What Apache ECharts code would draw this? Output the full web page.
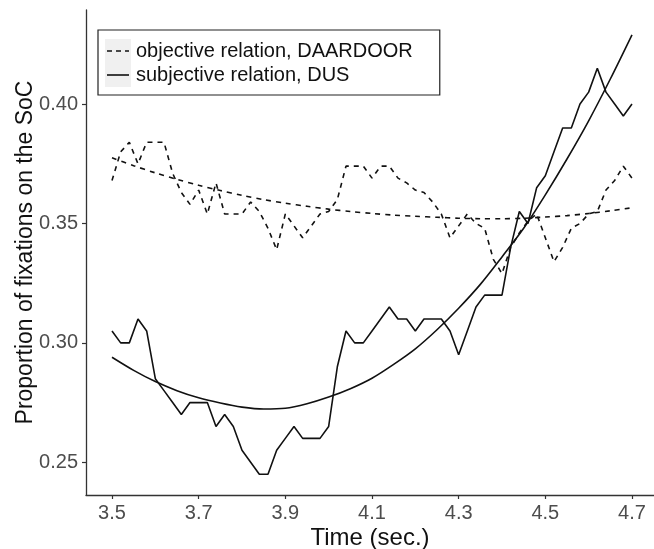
<!DOCTYPE html>
<html>
<head>
<meta charset="utf-8">
<script src="https://cdn.jsdelivr.net/npm/echarts@6/dist/echarts.min.js"></script>
<style>
  html, body { margin: 0; padding: 0; background: #fff; }
  #fixChart { width: 654px; height: 549px; }
</style>
</head>
<body>
<div id="fixChart"></div>
<script>
// time bins (sec.)
const times = [
  3.50, 3.52, 3.54, 3.56, 3.58, 3.60, 3.62, 3.64, 3.66, 3.68,
  3.70, 3.72, 3.74, 3.76, 3.78, 3.80, 3.82, 3.84, 3.86, 3.88,
  3.90, 3.92, 3.94, 3.96, 3.98, 4.00, 4.02, 4.04, 4.06, 4.08,
  4.10, 4.12, 4.14, 4.16, 4.18, 4.20, 4.22, 4.24, 4.26, 4.28,
  4.30, 4.32, 4.34, 4.36, 4.38, 4.40, 4.42, 4.44, 4.46, 4.48,
  4.50, 4.52, 4.54, 4.56, 4.58, 4.60, 4.62, 4.64, 4.66, 4.68,
  4.70
];

// objective relation, DAARDOOR (dashed)
const objective = [
  0.368, 0.380, 0.384, 0.375, 0.384, 0.384, 0.384, 0.371, 0.363, 0.358,
  0.364, 0.354, 0.367, 0.354, 0.354, 0.354, 0.359, 0.355, 0.348, 0.339,
  0.354, 0.349, 0.344, 0.349, 0.354, 0.355, 0.360, 0.374, 0.374, 0.374,
  0.369, 0.374, 0.374, 0.369, 0.367, 0.364, 0.363, 0.359, 0.354, 0.344,
  0.349, 0.354, 0.350, 0.348, 0.335, 0.329, 0.340, 0.346, 0.351, 0.354,
  0.344, 0.334, 0.340, 0.348, 0.350, 0.354, 0.355, 0.364, 0.368, 0.374,
  0.369
];

// subjective relation, DUS (solid)
const subjective = [
  0.305, 0.300, 0.300, 0.310, 0.305, 0.285, 0.280, 0.275, 0.270, 0.275,
  0.275, 0.275, 0.265, 0.270, 0.265, 0.255, 0.250, 0.245, 0.245, 0.255,
  0.260, 0.265, 0.260, 0.260, 0.260, 0.265, 0.290, 0.305, 0.300, 0.300,
  0.305, 0.310, 0.315, 0.310, 0.310, 0.305, 0.310, 0.310, 0.310, 0.305,
  0.295, 0.305, 0.315, 0.320, 0.320, 0.320, 0.340, 0.355, 0.350, 0.365,
  0.370, 0.380, 0.390, 0.390, 0.400, 0.405, 0.415, 0.405, 0.400, 0.395,
  0.400
];

// fitted curves
const fitTimes = [
  3.50, 3.55, 3.60, 3.65, 3.70, 3.75, 3.80, 3.85, 3.90, 3.95, 4.00, 4.05, 4.10,
  4.15, 4.20, 4.25, 4.30, 4.35, 4.40, 4.45, 4.50, 4.55, 4.60, 4.65, 4.70
];
const objectiveFit = [
  0.3775, 0.3742, 0.3712, 0.3685, 0.3660, 0.3638, 0.3618, 0.3600, 0.3585, 0.3572, 0.3560, 0.3550, 0.3542,
  0.3535, 0.3530, 0.3526, 0.3522, 0.3520, 0.3520, 0.3522, 0.3527, 0.3533, 0.3542, 0.3553, 0.3566
];
const subjectiveFit = [
  0.2940, 0.2885, 0.2838, 0.2800, 0.2770, 0.2748, 0.2731, 0.2723, 0.2726, 0.2745, 0.2773, 0.2808, 0.2852,
  0.2910, 0.2975, 0.3055, 0.3145, 0.3245, 0.3360, 0.3480, 0.3620, 0.3770, 0.3930, 0.4105, 0.4290
];

const xTicks = [3.5, 3.7, 3.9, 4.1, 4.3, 4.5, 4.7];
const yTicks = [0.25, 0.30, 0.35, 0.40];

const OBJ = 'objective relation, DAARDOOR';
const SUBJ = 'subjective relation, DUS';

const pairs = (xs, ys) => xs.map((x, i) => [x, ys[i]]);

const option = () => {
  const font = 'Liberation Sans, Arial, sans-serif';
  const tickStyle = { color: '#333', width: 1.2 };
  // legend keys: grey ggplot-style boxes with a line sample
  const keyBox = (top) => ({
    type: 'rect',
    left: 105,
    top: top,
    shape: { width: 26, height: 24 },
    style: { fill: '#f0f0f0' },
    z: 10
  });
  const keyLine = (y, dashed) => ({
    type: 'line',
    shape: { x1: 107, y1: y, x2: 129, y2: y },
    style: { stroke: '#111', lineWidth: 1.6, lineDash: dashed ? [5, 4] : null },
    z: 11
  });
  return {
    animation: false,
    backgroundColor: '#fff',
    textStyle: { fontFamily: font },
    grid: { left: 86, right: 0, top: 10, bottom: 54, containLabel: false, outerBoundsMode: 'none' },
    legend: {
      data: [OBJ, SUBJ],
      orient: 'vertical',
      left: 98,
      top: 30,
      padding: [9, 27, 8, 7],
      itemGap: 0,
      itemWidth: 26,
      itemHeight: 24,
      icon: 'rect',
      itemStyle: { opacity: 0 },
      lineStyle: { opacity: 0 },
      borderColor: '#222',
      borderWidth: 1.2,
      textStyle: { fontSize: 20, color: '#111', fontFamily: font }
    },
    graphic: [keyBox(39), keyBox(63), keyLine(51, true), keyLine(75, false)],
    xAxis: {
      type: 'value',
      min: 3.44,
      max: 4.7508,
      name: 'Time (sec.)',
      nameLocation: 'middle',
      nameGap: 31,
      nameMoveOverlap: false,
      nameTextStyle: { fontSize: 24, color: '#111', fontFamily: font },
      axisLine: { lineStyle: { color: '#333', width: 1.3 } },
      axisTick: { show: true, length: 4, lineStyle: tickStyle, customValues: xTicks },
      axisLabel: {
        customValues: xTicks,
        margin: 8,
        fontSize: 20,
        color: '#4d4d4d',
        formatter: v => v.toFixed(1)
      },
      splitLine: { show: false }
    },
    yAxis: {
      type: 'value',
      min: 0.2363,
      max: 0.4394,
      name: 'Proportion of fixations on the SoC',
      nameLocation: 'middle',
      nameGap: 49,
      nameMoveOverlap: false,
      nameTextStyle: { fontSize: 23, color: '#111', fontFamily: font },
      axisLine: { show: true, lineStyle: { color: '#333', width: 1.3 } },
      axisTick: { show: true, length: 4, lineStyle: tickStyle, customValues: yTicks },
      axisLabel: {
        customValues: yTicks,
        margin: 8,
        fontSize: 20,
        color: '#4d4d4d',
        formatter: v => v.toFixed(2)
      },
      splitLine: { show: false }
    },
    series: [
      {
        name: OBJ,
        type: 'line',
        data: pairs(times, objective),
        symbol: 'none',
        lineStyle: { color: '#111', width: 1.6, type: [5, 5] },
        itemStyle: { color: '#111' }
      },
      {
        name: SUBJ,
        type: 'line',
        data: pairs(times, subjective),
        symbol: 'none',
        lineStyle: { color: '#111', width: 1.6 },
        itemStyle: { color: '#111' }
      },
      {
        name: OBJ,
        type: 'line',
        data: pairs(fitTimes, objectiveFit),
        smooth: 0.3,
        symbol: 'none',
        lineStyle: { color: '#111', width: 1.6, type: [5, 5] }
      },
      {
        name: SUBJ,
        type: 'line',
        data: pairs(fitTimes, subjectiveFit),
        smooth: 0.3,
        symbol: 'none',
        lineStyle: { color: '#111', width: 1.6 }
      }
    ]
  };
};

const fixChart = echarts.init(document.getElementById('fixChart'));
fixChart.setOption(option());
</script>
</body>
</html>
